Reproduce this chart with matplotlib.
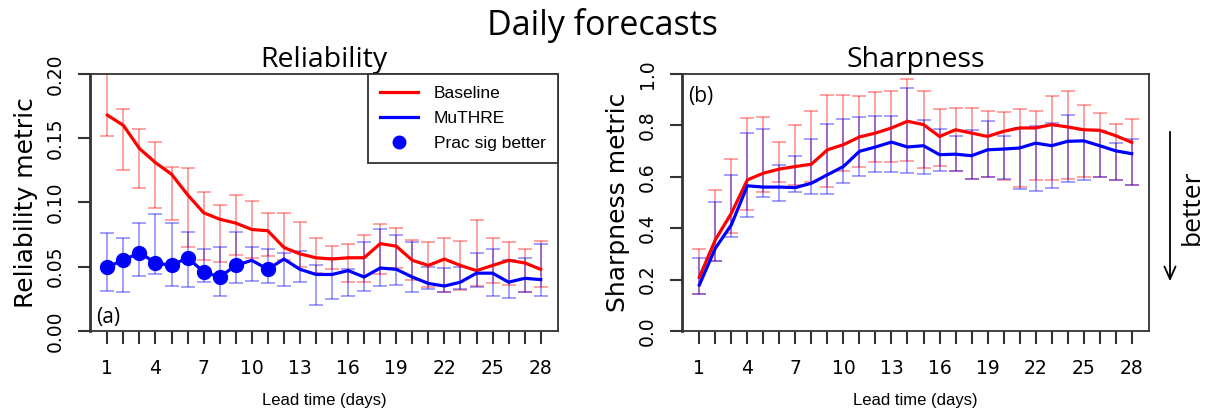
import numpy as np
import matplotlib
matplotlib.use("Agg")
import matplotlib.pyplot as plt

lead = np.arange(1, 29)
tick_leads = [1, 4, 7, 10, 13, 16, 19, 22, 25, 28]

# Reliability (panel a)
rel_base = [0.168, 0.160, 0.142, 0.131, 0.122, 0.106, 0.092, 0.087, 0.084, 0.079,
            0.078, 0.065, 0.060, 0.057, 0.056, 0.057, 0.057, 0.068, 0.066, 0.055,
            0.051, 0.056, 0.051, 0.047, 0.051, 0.055, 0.053, 0.048]
rel_base_hi = [0.201, 0.173, 0.157, 0.147, 0.128, 0.127, 0.108, 0.098, 0.106, 0.101,
               0.092, 0.092, 0.085, 0.072, 0.066, 0.068, 0.075, 0.083, 0.080, 0.071,
               0.069, 0.072, 0.070, 0.086, 0.072, 0.069, 0.064, 0.070]
rel_base_lo = [0.152, 0.125, 0.111, 0.096, 0.086, 0.065, 0.055, 0.054, 0.059, 0.057,
               0.058, 0.055, 0.050, 0.045, 0.048, 0.038, 0.038, 0.044, 0.049, 0.040,
               0.034, 0.030, 0.032, 0.035, 0.037, 0.036, 0.030, 0.034]
rel_muthre = [0.050, 0.055, 0.061, 0.053, 0.051, 0.057, 0.046, 0.042, 0.051, 0.055,
              0.048, 0.056, 0.048, 0.044, 0.044, 0.047, 0.042, 0.049, 0.048, 0.042,
              0.037, 0.035, 0.038, 0.045, 0.045, 0.038, 0.041, 0.040]
rel_muthre_hi = [0.076, 0.072, 0.084, 0.091, 0.084, 0.077, 0.064, 0.065, 0.077, 0.065,
                 0.064, 0.061, 0.062, 0.051, 0.057, 0.048, 0.069, 0.079, 0.075, 0.069,
                 0.050, 0.049, 0.050, 0.061, 0.064, 0.055, 0.057, 0.068]
rel_muthre_lo = [0.031, 0.030, 0.043, 0.044, 0.035, 0.034, 0.038, 0.027, 0.037, 0.039,
                 0.037, 0.035, 0.038, 0.020, 0.025, 0.027, 0.031, 0.035, 0.036, 0.030,
                 0.033, 0.030, 0.033, 0.034, 0.027, 0.026, 0.030, 0.027]
sig_leads = [1, 2, 3, 4, 5, 6, 7, 8, 9, 11]

# Sharpness (panel b)
shp_base = [0.209, 0.355, 0.458, 0.588, 0.614, 0.630, 0.640, 0.649, 0.705, 0.725,
            0.755, 0.770, 0.790, 0.816, 0.803, 0.757, 0.783, 0.770, 0.757, 0.777,
            0.790, 0.790, 0.803, 0.794, 0.783, 0.781, 0.760, 0.734]
shp_base_hi = [0.318, 0.547, 0.669, 0.829, 0.831, 0.735, 0.803, 0.855, 0.917, 0.917,
               0.916, 0.929, 0.932, 0.981, 0.935, 0.864, 0.868, 0.868, 0.855, 0.852,
               0.864, 0.857, 0.913, 0.932, 0.878, 0.848, 0.805, 0.825]
shp_base_lo = [0.143, 0.274, 0.381, 0.471, 0.540, 0.578, 0.570, 0.580, 0.560, 0.621,
               0.640, 0.656, 0.657, 0.660, 0.634, 0.643, 0.623, 0.590, 0.599, 0.588,
               0.562, 0.586, 0.588, 0.590, 0.601, 0.599, 0.588, 0.569]
shp_muthre = [0.179, 0.322, 0.413, 0.565, 0.560, 0.560, 0.558, 0.575, 0.608, 0.640,
              0.699, 0.716, 0.735, 0.716, 0.721, 0.686, 0.688, 0.682, 0.705, 0.708,
              0.712, 0.731, 0.721, 0.738, 0.740, 0.721, 0.701, 0.690]
shp_muthre_hi = [0.283, 0.500, 0.608, 0.770, 0.786, 0.644, 0.682, 0.747, 0.805, 0.825,
                 0.832, 0.835, 0.835, 0.945, 0.822, 0.786, 0.757, 0.781, 0.818, 0.760,
                 0.790, 0.799, 0.809, 0.842, 0.783, 0.777, 0.731, 0.747]
shp_muthre_lo = [0.143, 0.274, 0.364, 0.443, 0.520, 0.504, 0.540, 0.533, 0.533, 0.575,
                 0.604, 0.617, 0.617, 0.614, 0.612, 0.623, 0.621, 0.590, 0.599, 0.590,
                 0.553, 0.545, 0.556, 0.579, 0.588, 0.601, 0.586, 0.569]

RED = "#ff0000"
BLUE = "#0000ff"

fig = plt.figure(figsize=(12.05, 4.12), dpi=100)
ax1 = fig.add_axes([0.0747, 0.1966, 0.3884, 0.6238])
ax2 = fig.add_axes([0.5660, 0.1966, 0.3875, 0.6238])


def draw_bars(ax, y, lo, hi, color):
    y = np.array(y)
    err = [y - np.array(lo), np.array(hi) - y]
    ax.errorbar(lead, y, yerr=err, fmt="none", ecolor=color, alpha=0.4,
                elinewidth=1.3, capsize=5, capthick=1.3, zorder=2)


def style_axes(ax, ymax, yticks, ylabels, ylabel):
    ax.set_xlim(-0.08, 29.08)
    ax.set_ylim(0, ymax)
    ax.set_xticks(lead)
    ax.set_xticklabels([str(l) if l in tick_leads else "" for l in lead],
                       fontsize=13.5, family="DejaVu Sans")
    ax.set_yticks(yticks)
    ax.set_yticklabels(ylabels, rotation=90, va="center", fontsize=13.5,
                       family="DejaVu Sans")
    ax.tick_params(axis="x", length=9, width=1.5, pad=11, color="#333333")
    ax.tick_params(axis="y", length=9, width=1.5, pad=9, color="#333333")
    for s in ax.spines.values():
        s.set_linewidth(1.3)
        s.set_color("#333333")
    ax.spines["left"].set_linewidth(2)
    ax.set_ylabel(ylabel, fontsize=18, family="DejaVu Sans", labelpad=6)
    ax.set_xlabel("Lead time (days)", fontsize=12, family="Liberation Sans",
                  labelpad=11)


# panel (a)
draw_bars(ax1, rel_base, rel_base_lo, rel_base_hi, RED)
draw_bars(ax1, rel_muthre, rel_muthre_lo, rel_muthre_hi, BLUE)
ax1.plot(lead, rel_base, color=RED, lw=2.3, label="Baseline", zorder=3)
ax1.plot(lead, rel_muthre, color=BLUE, lw=2.3, label="MuTHRE", zorder=3)
sig_idx = [l - 1 for l in sig_leads]
ax1.plot(sig_leads, [rel_muthre[i] for i in sig_idx], "o", color=BLUE,
         markersize=10, linestyle="none", label="Prac sig better", zorder=4)
style_axes(ax1, 0.2, [0, 0.05, 0.10, 0.15, 0.20],
           ["0.00", "0.05", "0.10", "0.15", "0.20"], "Reliability metric")
ax1.set_title("Reliability", fontsize=20.5, family="Open Sans", pad=3)
ax1.text(0.012, 0.03, "(a)", transform=ax1.transAxes, fontsize=15,
         family="Open Sans")
leg = ax1.legend(loc="upper right", bbox_to_anchor=(1.0, 1.0), fancybox=False,
                 framealpha=1, edgecolor="#333333", borderaxespad=0,
                 prop={"family": "Liberation Sans", "size": 12.5},
                 handlelength=2.2, labelspacing=0.55, borderpad=0.7,
                 handletextpad=0.9, markerscale=0.9)
leg.get_frame().set_linewidth(1.3)

# panel (b)
draw_bars(ax2, shp_base, shp_base_lo, shp_base_hi, RED)
draw_bars(ax2, shp_muthre, shp_muthre_lo, shp_muthre_hi, BLUE)
ax2.plot(lead, shp_base, color=RED, lw=2.3, zorder=3)
ax2.plot(lead, shp_muthre, color=BLUE, lw=2.3, zorder=3)
style_axes(ax2, 1.0, [0, 0.2, 0.4, 0.6, 0.8, 1.0],
           ["0.0", "0.2", "0.4", "0.6", "0.8", "1.0"], "Sharpness metric")
ax2.set_title("Sharpness", fontsize=20.5, family="Open Sans", pad=3)
ax2.text(0.012, 0.89, "(b)", transform=ax2.transAxes, fontsize=15,
         family="Open Sans")

# "better" arrow
fig.patches.append(matplotlib.patches.FancyArrowPatch(
    (1170 / 1205, 1 - 129 / 412), (1170 / 1205, 1 - 284 / 412),
    transform=fig.transFigure, arrowstyle="->,head_length=9,head_width=4",
    color="black", lw=1.3))
fig.text(1192 / 1205, 1 - 207 / 412, "better", rotation=90, ha="center",
         va="center", fontsize=19, family="Open Sans")

fig.suptitle("Daily forecasts", fontsize=24.5, family="Open Sans", y=0.98)

fig.savefig("out.png", dpi=100)
